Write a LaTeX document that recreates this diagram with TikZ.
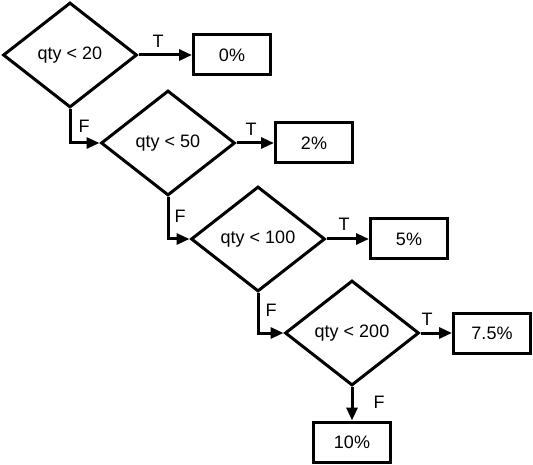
\documentclass[tikz,border=0pt]{standalone}
\usepackage{fontspec}
\setmainfont{Liberation Sans}
\usetikzlibrary{shapes.geometric,arrows.meta}
\begin{document}
\begin{tikzpicture}[x=1pt,y=-1pt,
  every node/.style={font=\fontsize{18}{20}\selectfont},
  cond/.style={draw,diamond,line width=3pt,minimum width=134pt,minimum height=105pt,inner sep=0pt},
  res/.style={draw,rectangle,line width=3pt,minimum width=77pt,minimum height=40pt,inner sep=0pt},
  conn/.style={line width=3pt,-{Triangle[length=13pt,width=11pt]}},
  lbl/.style={inner sep=0pt}]
\useasboundingbox (0,0) rectangle (533,465);
\node[cond] (d1) at (70,55) {qty < 20};
\node[cond] (d2) at (168,143) {qty < 50};
\node[cond] (d3) at (258,239) {qty < 100};
\node[cond] (d4) at (352,333) {qty < 200};
\node[res] (r1) at (232,55) {0\%};
\node[res] (r2) at (314,143) {2\%};
\node[res] (r3) at (409,239) {5\%};
\node[res] (r4) at (492,333) {7.5\%};
\node[res] (r5) at (352,442) {10\%};
\draw[conn] (d1.east) -- (r1.west);
\draw[conn] (d2.east) -- (r2.west);
\draw[conn] (d3.east) -- (r3.west);
\draw[conn] (d4.east) -- (r4.west);
\draw[conn] (d1.south) |- (d2.west);
\draw[conn] (d2.south) |- (d3.west);
\draw[conn] (d3.south) |- (d4.west);
\draw[conn] (d4.south) -- (r5.north);
\node[lbl] (t1) at (158,41) {T};
\node[lbl] (t2) at (251,129) {T};
\node[lbl] (t3) at (344,224) {T};
\node[lbl] (t4) at (427,319) {T};
\node[lbl] (f1) at (84,126) {F};
\node[lbl] (f2) at (180,216) {F};
\node[lbl] (f3) at (271,310) {F};
\node[lbl] (f4) at (379,402) {F};
\end{tikzpicture}
\end{document}
